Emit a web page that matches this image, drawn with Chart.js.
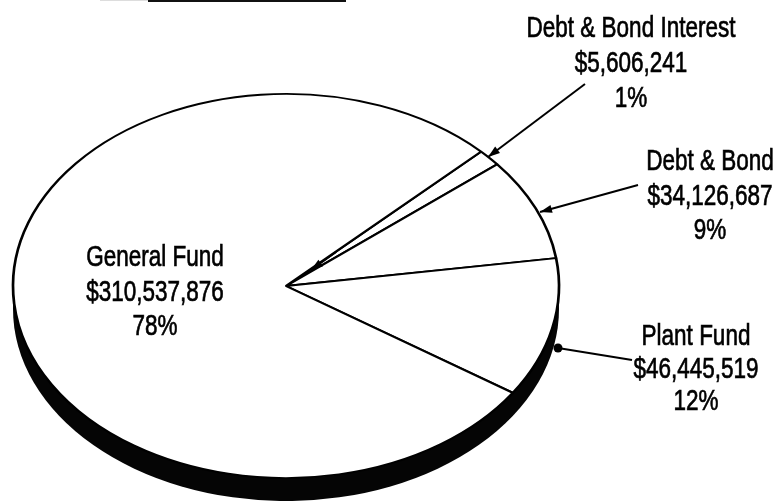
<!DOCTYPE html>
<html><head><meta charset="utf-8">
<script src="https://cdn.jsdelivr.net/npm/chart.js@4.4.0/dist/chart.umd.min.js"></script>
<style>html,body{margin:0;padding:0;background:#fff;overflow:hidden}canvas{display:block}</style>
</head><body>
<canvas id="c" width="778" height="501" style="width:778px;height:501px"></canvas>
<script>
// ---- data ----
const categories = ['Debt & Bond Interest', 'Debt & Bond', 'Plant Fund', 'General Fund'];
const amounts = [5606241, 34126687, 46445519, 310537876];
const percentLabels = ['1%', '9%', '12%', '78%'];

// ---- layout / style ----
const RX = 273;          // horizontal radius of the ellipse
const SHADOW = 23;       // depth of the dark rim
const FONT = '30px "Liberation Sans", Arial, sans-serif';
const SX = 0.75;         // condensed text
const labelLayout = [
  { x: 631, base: [37, 72, 107] },
  { x: 710, base: [170, 205, 239] },
  { x: 696, base: [345, 378, 410] },
  { x: 155, base: [266, 301, 335] }
];
const arrowLayout = [
  { from: [585, 84], to: [488, 157], head: 'arrow' },
  { from: [336, 252], to: [311, 270], head: 'arrow' },
  { from: [638, 185], to: [540, 212], head: 'arrow' },
  { from: [632, 360], to: [558, 348], head: 'dot' }
];

function fmtDollar(v) { return '$' + v.toLocaleString('en-US'); }

function drawText(ctx, s, x, y) {
  ctx.save();
  ctx.translate(x, y);
  ctx.scale(SX, 1);
  ctx.fillText(s, 0, 0);
  ctx.strokeText(s, 0, 0);
  ctx.restore();
}

function drawArrow(ctx, a) {
  const [x1, y1] = a.from, [x2, y2] = a.to;
  ctx.save();
  ctx.strokeStyle = '#000'; ctx.fillStyle = '#000'; ctx.lineWidth = 2;
  ctx.beginPath(); ctx.moveTo(x1, y1); ctx.lineTo(x2, y2); ctx.stroke();
  if (a.head === 'arrow') {
    const ang = Math.atan2(y2 - y1, x2 - x1), L = 12, W = 4;
    ctx.beginPath();
    ctx.moveTo(x2, y2);
    ctx.lineTo(x2 - L * Math.cos(ang) + W * Math.sin(ang), y2 - L * Math.sin(ang) - W * Math.cos(ang));
    ctx.lineTo(x2 - L * Math.cos(ang) - W * Math.sin(ang), y2 - L * Math.sin(ang) + W * Math.cos(ang));
    ctx.closePath(); ctx.fill();
  } else {
    ctx.beginPath(); ctx.arc(x2, y2, 4.5, 0, Math.PI * 2); ctx.fill();
  }
  ctx.restore();
}

const ellipsePlugin = {
  id: 'ellipsePie',
  beforeDatasetsDraw(chart) {
    const ctx = chart.ctx;
    const arc = chart.getDatasetMeta(0).data[0];
    const cx = arc.x, cy = arc.y, r = arc.outerRadius;
    ctx.save();
    ctx.fillStyle = '#050505';
    ctx.beginPath();
    ctx.ellipse(cx, cy + SHADOW, RX, r, 0, 0, Math.PI * 2);
    ctx.fill();
    ctx.translate(cx, cy);
    ctx.scale(RX / r, 1);
    ctx.translate(-cx, -cy);
  },
  afterDatasetsDraw(chart) {
    const ctx = chart.ctx;
    ctx.restore();
    ctx.save();
    // scan edge at the top
    ctx.fillStyle = '#111';
    ctx.fillRect(148, 0, 198, 2);
    ctx.fillStyle = '#ddd';
    ctx.fillRect(100, 0, 48, 1);
    arrowLayout.forEach(a => drawArrow(ctx, a));
    ctx.fillStyle = '#000';
    ctx.strokeStyle = '#000';
    ctx.lineWidth = 0.7;
    ctx.font = FONT;
    ctx.textAlign = 'center';
    ctx.textBaseline = 'alphabetic';
    categories.forEach((c, i) => {
      const L = labelLayout[i];
      drawText(ctx, c, L.x, L.base[0]);
      drawText(ctx, fmtDollar(amounts[i]), L.x, L.base[1]);
      drawText(ctx, percentLabels[i], L.x, L.base[2]);
    });
    ctx.restore();
  }
};

new Chart(document.getElementById('c'), {
  type: 'pie',
  data: {
    labels: categories,
    datasets: [{
      data: amounts,
      backgroundColor: '#ffffff',
      borderColor: '#000000',
      borderWidth: 1.9,
      hoverOffset: 0
    }]
  },
  options: {
    responsive: false,
    animation: false,
    events: [],
    rotation: 45.6,
    layout: { padding: { left: 13, right: 219, top: 93, bottom: 22 } },
    plugins: { legend: { display: false }, tooltip: { enabled: false } }
  },
  plugins: [ellipsePlugin]
});
</script>
</body></html>
